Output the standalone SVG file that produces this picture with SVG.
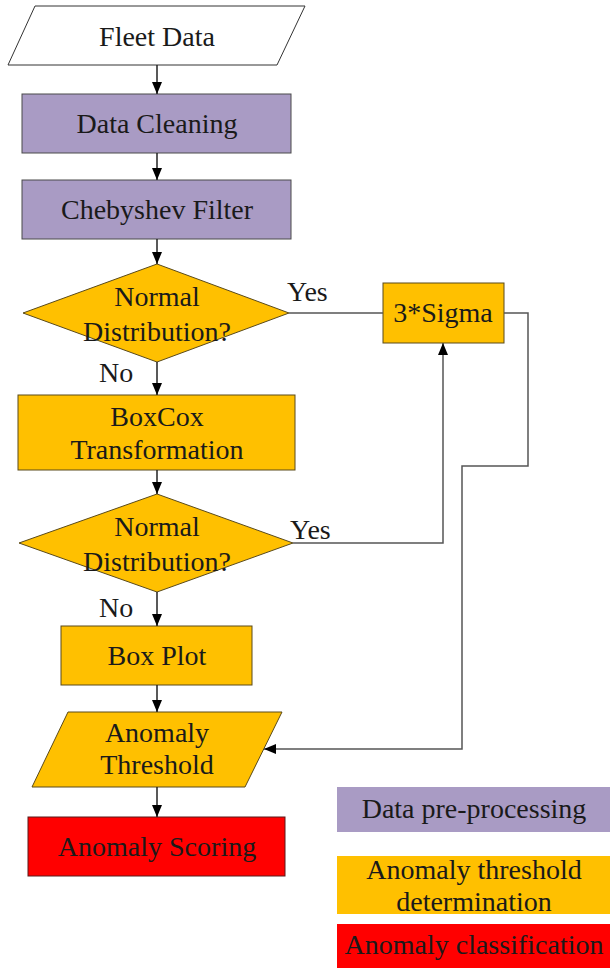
<svg xmlns="http://www.w3.org/2000/svg" width="610" height="968" viewBox="0 0 610 968">
<defs>
<marker id="ah" markerUnits="userSpaceOnUse" markerWidth="12" markerHeight="10" refX="12" refY="5" orient="auto">
<path d="M0,0 L12,5 L0,10 z" fill="#000"/>
</marker>
<style>
text{font-family:"Liberation Serif","Times New Roman",serif;font-size:28px;fill:#1a1a1a;text-anchor:middle}
.lbl{text-anchor:start}
.purple{fill:#A99BC4;stroke:#4a4a4a;stroke-width:1}
.orange{fill:#FFC000;stroke:#5a4a1a;stroke-width:1}
.red{fill:#FF0000;stroke:#5a1a1a;stroke-width:1}
.white{fill:#fff;stroke:#333;stroke-width:1}
.conn{fill:none;stroke:#555;stroke-width:1.5}
.arr{fill:none;stroke:#222;stroke-width:1.5;marker-end:url(#ah)}
</style>
</defs>
<rect width="610" height="968" fill="#fff"/>
<g id="fleet-data">
<polygon class="white" points="35,6 305,6 277,65 8,65"/>
<text x="157" y="46">Fleet Data</text>
</g>
<g id="data-cleaning">
<rect class="purple" x="22" y="94" width="269" height="59"/>
<text x="157" y="133">Data Cleaning</text>
</g>
<g id="chebyshev">
<rect class="purple" x="22" y="180" width="269" height="59"/>
<text x="157" y="219">Chebyshev Filter</text>
</g>
<g id="normal1">
<polygon class="orange" points="157,264 289,313 157,362 23,313"/>
<text x="157" y="306">Normal</text>
<text x="157" y="341">Distribution?</text>
</g>
<g id="boxcox">
<rect class="orange" x="18" y="395" width="277" height="75"/>
<text x="157" y="426">BoxCox</text>
<text x="157" y="459">Transformation</text>
</g>
<g id="normal2">
<polygon class="orange" points="157,494 293,543 157,592 19,543"/>
<text x="157" y="536">Normal</text>
<text x="157" y="571">Distribution?</text>
</g>
<g id="boxplot">
<rect class="orange" x="61" y="626" width="191" height="59"/>
<text x="157" y="665">Box Plot</text>
</g>
<g id="threshold">
<polygon class="orange" points="68,712 282,712 245,787 32,787"/>
<text x="157" y="742">Anomaly</text>
<text x="157" y="774">Threshold</text>
</g>
<g id="scoring">
<rect class="red" x="28" y="817" width="257" height="59"/>
<text x="157" y="856">Anomaly Scoring</text>
</g>
<g id="sigma">
<rect class="orange" x="383" y="283" width="121" height="60"/>
<text x="443" y="322">3*Sigma</text>
</g>
<g id="legend">
<rect x="337" y="787" width="273" height="45" fill="#A99BC4"/>
<text x="474" y="818">Data pre-processing</text>
<rect x="337" y="856" width="273" height="58" fill="#FFC000"/>
<text x="474" y="879">Anomaly threshold</text>
<text x="474" y="911">determination</text>
<rect x="337" y="924" width="273" height="44" fill="#FF0000"/>
<text x="474" y="954">Anomaly classification</text>
</g>
<g id="connectors">
<line class="arr" x1="157" y1="65" x2="157" y2="94"/>
<line class="arr" x1="157" y1="153" x2="157" y2="180"/>
<line class="arr" x1="157" y1="239" x2="157" y2="264"/>
<line class="arr" x1="157" y1="362" x2="157" y2="395"/>
<line class="arr" x1="157" y1="470" x2="157" y2="494"/>
<line class="arr" x1="157" y1="592" x2="157" y2="626"/>
<line class="arr" x1="157" y1="685" x2="157" y2="712"/>
<line class="arr" x1="157" y1="787" x2="157" y2="817"/>
<line class="conn" x1="289" y1="313" x2="383" y2="313"/>
<polyline class="conn" points="504,313 528,313 528,466 462,466 462,749 264,749" style="marker-end:url(#ah)"/>
<polyline class="conn" points="293,543 443,543 443,343" style="marker-end:url(#ah)"/>
<text class="lbl" x="99" y="382">No</text>
<text class="lbl" x="99" y="617">No</text>
<text class="lbl" x="287" y="301">Yes</text>
<text class="lbl" x="290" y="539">Yes</text>
</g>
</svg>
